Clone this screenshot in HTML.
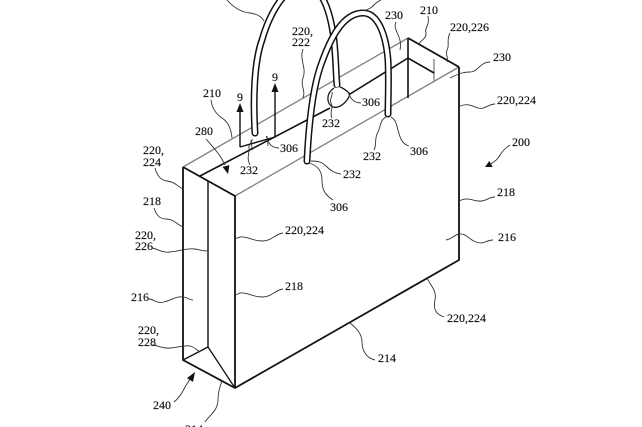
<!DOCTYPE html>
<html>
<head>
<meta charset="utf-8">
<style>
html,body{margin:0;padding:0;background:#fff;}
svg{display:block;}
text{font-family:"Liberation Serif",serif;font-size:12px;fill:#111;stroke:#111;stroke-width:0.15;}
</style>
</head>
<body>
<svg width="642" height="427" viewBox="0 0 642 427" xmlns="http://www.w3.org/2000/svg">
<rect width="642" height="427" fill="#fff"/>

<!-- grey rim lines -->
<g stroke="#808080" stroke-width="1.3" fill="none">
  <path d="M183,167 L408,38"/>
  <path d="M235,196 L459,67"/>
  <path d="M434,59 L434,82"/>
  <path d="M251,140 L252,150 M267,136 L268,146"/>
</g>

<!-- main bag outline -->
<g stroke="#111" fill="none" stroke-linejoin="miter">
  <path d="M183,167 L183,360 L235,388 L459,260 L459,67 M183,167 L235,196 L235,388 M408,38 L459,67" stroke-width="1.8"/>
  <path d="M208,181 L208,347" stroke-width="1.4"/>
  <path d="M183,360 L208,347 L235,388" stroke-width="1.3"/>
  <path d="M200,176 L330,108 M350,94 L408,58 L434,73" stroke-width="1.6"/>
  <path d="M408,38 L408,98" stroke-width="1.6"/>
</g>

<!-- back handle -->
<path d="M255,133 C253,100 254,62 262,40 C270,12 286,-14 303,-15 C321,-15 330,8 334,40 C336,60 336,75 337,85" stroke="#111" stroke-width="7" fill="none" stroke-linecap="round"/>
<path d="M255,133 C253,100 254,62 262,40 C270,12 286,-14 303,-15 C321,-15 330,8 334,40 C336,60 336,75 337,85" stroke="#fff" stroke-width="4" fill="none" stroke-linecap="round"/>
<!-- blob under back handle right foot -->
<path d="M334,88 C326,93 326,104 333,107 C340,109 348,101 350,94 C346,90 343,88 340,87" stroke="#111" stroke-width="1.3" fill="#fff"/>

<!-- front handle -->
<path d="M307,161 C309,120 313,85 322,62 C330,40 342,14 362,13 C378,12 386,35 388,60 C389,80 388,100 388,114" stroke="#111" stroke-width="7" fill="none" stroke-linecap="round"/>
<path d="M307,161 C309,120 313,85 322,62 C330,40 342,14 362,13 C378,12 386,35 388,60 C389,80 388,100 388,114" stroke="#fff" stroke-width="4" fill="none" stroke-linecap="round"/>

<!-- section line 9-9 -->
<g stroke="#111" stroke-width="1.4" fill="none">
  <path d="M240,147 L240,110 M240,147 L275,137 L275,90"/>
</g>
<polygon points="240,103 236.5,112 243.5,112" fill="#111"/>
<polygon points="275,83 271.5,92 278.5,92" fill="#111"/>

<!-- leaders -->
<g stroke="#333" stroke-width="0.9" fill="none">
  <path d="M227,0 C233,7 240,12 250,13 C257,14 262,17 264,21"/>
  <path d="M362,10 C368,11 372,7 375,4 C377,2 379,1 381,0"/>
  <path d="M303,49 C299,60 307,68 303,78 C300,86 306,90 303,98"/>
  <path d="M396,22 C392,30 403,36 400,50"/>
  <path d="M428,16 C430,26 424,28 426,33 C427,38 421,40 419,44"/>
  <path d="M450,33 C446,40 450,46 447,50 C445,55 449,58 447,62"/>
  <path d="M490,62 C480,62 478,72 470,72 C464,72 460,73 450,78"/>
  <path d="M495,104 C488,104 485,110 478,108 C472,106 468,103 460,106"/>
  <path d="M510,145 C505,148 502,152 500,155 C498,159 495,161 491,164"/>
  <path d="M495,197 C488,197 486,202 478,201 C470,200 468,197 459,201"/>
  <path d="M493,240 C486,240 484,245 476,242 C468,239 466,233 459,234 C454,235 452,239 446,240"/>
  <path d="M444,317 C436,314 433,310 435,300 C437,290 430,285 427,278"/>
  <path d="M375,360 C366,358 362,350 362,342 C362,333 355,327 350,323"/>
  <path d="M205,422 C210,415 218,410 218,400 C218,392 220,386 222,381"/>
  <path d="M174,402 C179,398 182,393 184,389 C186,385 188,382 191,378"/>
  <path d="M152,345 C158,345 162,349 170,348 C180,347 185,345 190,346 C194,347 197,350 200,352"/>
  <path d="M149,299 C154,299 156,304 164,302 C172,300 176,296 184,297 C188,298 190,300 193,300"/>
  <path d="M152,248 C158,249 162,253 170,252 C180,251 186,248 195,249 C200,250 204,251 208,251"/>
  <path d="M154,208 C156,214 159,219 166,219 C174,219 176,224 183,227"/>
  <path d="M155,168 C157,175 160,180 167,181 C175,182 177,186 183,189"/>
  <path d="M283,233 C275,234 272,241 262,241 C252,241 248,236 240,237 C238,238 236,238 235,239"/>
  <path d="M283,289 C275,290 272,297 262,297 C252,297 248,292 240,293 C238,294 236,295 235,295"/>
  <path d="M211,100 C212,108 216,114 222,118 C228,122 231,128 232,138"/>
  <path d="M206,139 C212,146 220,154 225,165"/>
  <path d="M250,165 C246,158 250,152 249,148 C248,144 253,142 252,139"/>
  <path d="M279,148 C274,148 271,146 269,143 C267,140 268,138 266,136"/>
  <path d="M332,118 C329,112 334,108 331,103 C329,99 333,96 332,92"/>
  <path d="M361,103 C356,103 353,101 351,98 C349,95 349,94 348,92"/>
  <path d="M374,150 C377,145 374,138 378,132 C381,126 380,120 386,117"/>
  <path d="M409,146 C402,144 400,138 398,130 C396,123 396,120 391,117"/>
  <path d="M341,174 C334,173 330,170 326,166 C322,162 318,161 311,161"/>
  <path d="M333,200 C325,195 322,190 322,180 C322,170 316,165 309,163"/>
</g>

<!-- arrowheads for 280, 200, 240 -->
<polygon points="228,174 222.6,166.9 229.4,165.1" fill="#111"/>
<polygon points="485,167 492.7,167 489.3,161" fill="#111"/>
<polygon points="195,372 193,381.9 187,378.1" fill="#111"/>

<!-- labels -->
<text x="292" y="35">220,</text>
<text x="292" y="46">222</text>
<text x="385" y="19">230</text>
<text x="420" y="14">210</text>
<text x="450" y="31">220,226</text>
<text x="493" y="61">230</text>
<text x="497" y="104">220,224</text>
<text x="512" y="146">200</text>
<text x="497" y="196">218</text>
<text x="498" y="241">216</text>
<text x="447" y="322">220,224</text>
<text x="378" y="362">214</text>
<text x="185" y="433">214</text>
<text x="153" y="409">240</text>
<text x="138" y="334">220,</text>
<text x="138" y="346">228</text>
<text x="131" y="301">216</text>
<text x="135" y="239">220,</text>
<text x="135" y="250">226</text>
<text x="143" y="205">218</text>
<text x="143" y="154">220,</text>
<text x="143" y="166">224</text>
<text x="285" y="234">220,224</text>
<text x="285" y="290">218</text>
<text x="203" y="97">210</text>
<text x="195" y="135">280</text>
<text x="240" y="174">232</text>
<text x="280" y="152">306</text>
<text x="322" y="127">232</text>
<text x="362" y="106">306</text>
<text x="363" y="160">232</text>
<text x="410" y="155">306</text>
<text x="343" y="178">232</text>
<text x="330" y="211">306</text>
<text x="237" y="101">9</text>
<text x="272" y="81">9</text>
</svg>
</body>
</html>
